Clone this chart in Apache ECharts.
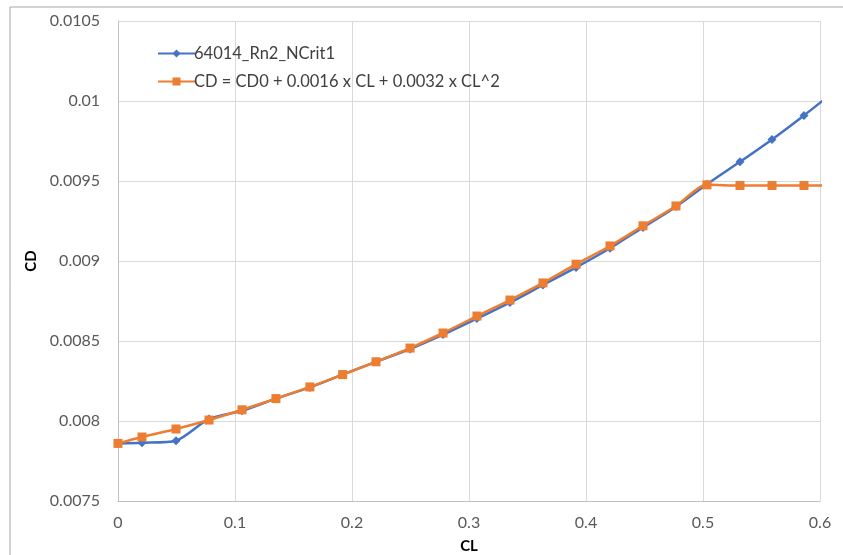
<!DOCTYPE html>
<html><head><meta charset="utf-8">
<script src="https://cdn.jsdelivr.net/npm/echarts@6/dist/echarts.min.js"></script>
<style>html,body{margin:0;padding:0;background:#fff}#c{width:843px;height:555px}</style>
</head><body><div id="c"></div>
<script>
const seriesNames = ['64014_Rn2_NCrit1', 'CD = CD0 + 0.0016 x CL + 0.0032 x CL^2'];
const clValues = [0, 0.0205, 0.0496, 0.0778, 0.106, 0.135, 0.164, 0.192, 0.2205, 0.2496, 0.2778, 0.3068, 0.335, 0.3632, 0.3915, 0.4205, 0.4487, 0.4769, 0.5034, 0.5316, 0.559, 0.5863, 0.614];
const cdMeasured = [0.00786, 0.007864, 0.007877, 0.008013, 0.008064, 0.00814, 0.00821, 0.00829, 0.00837, 0.00845, 0.00854, 0.00864, 0.00874, 0.00885, 0.00896, 0.00908, 0.00921, 0.00934, 0.00948, 0.00962, 0.00976, 0.00991, 0.01007];
const cdModel = [0.00786, 0.0079, 0.00795, 0.008006, 0.00807, 0.00814, 0.008213, 0.00829, 0.00837, 0.008456, 0.00855, 0.008656, 0.008756, 0.008863, 0.00898, 0.009094, 0.00922, 0.009344, 0.009476, 0.009472, 0.009472, 0.009472, 0.009472];
const yTicks = ['0.0075', '0.008', '0.0085', '0.009', '0.0095', '0.01', '0.0105'];
const xTicks = ['0', '0.1', '0.2', '0.3', '0.4', '0.5', '0.6'];

const font = 'Lato, "Liberation Sans", sans-serif';
const chart = echarts.init(document.getElementById('c'), null, {renderer: 'canvas'});
chart.setOption({
  animation: false,
  backgroundColor: '#fff',
  graphic: [{type: 'rect', shape: {x: 10, y: 7, width: 900, height: 700}, style: {fill: 'none', stroke: '#a6a6a6', lineWidth: 1}, silent: true, z: -1}],
  grid: {left: 118, right: 23, top: 21, bottom: 54, containLabel: false, outerBoundsMode: 'none'},
  legend: {
    orient: 'vertical', left: 152, top: 40, itemGap: 11, itemWidth: 37, itemHeight: 10,
    textStyle: {fontFamily: font, fontSize: 16.5, color: '#404040', padding: [0, 0, 0, -6]},
    data: seriesNames
  },
  xAxis: {
    type: 'value', min: 0, max: 0.6, interval: 0.1,
    name: 'CL', nameLocation: 'middle', nameGap: 38,
    nameTextStyle: {fontFamily: font, fontSize: 15, fontWeight: 'bold', color: '#000'},
    axisLine: {show: true, lineStyle: {color: '#bfbfbf', width: 1}},
    axisTick: {show: false},
    axisLabel: {fontFamily: font, fontSize: 16, color: '#595959', margin: 14, formatter: (v) => xTicks[Math.round(v * 10)]},
    splitLine: {show: true, lineStyle: {color: '#d9d9d9', width: 1}}
  },
  yAxis: {
    type: 'value', min: 0.0075, max: 0.0105, interval: 0.0005,
    name: 'CD', nameLocation: 'middle', nameGap: 79, nameRotate: 90,
    nameTextStyle: {fontFamily: font, fontSize: 15, fontWeight: 'bold', color: '#000'},
    axisLine: {show: true, lineStyle: {color: '#bfbfbf', width: 1}},
    axisTick: {show: false},
    axisLabel: {fontFamily: font, fontSize: 16, color: '#595959', margin: 18, formatter: (v) => yTicks[Math.round((v - 0.0075) / 0.0005)]},
    splitLine: {show: true, lineStyle: {color: '#d9d9d9', width: 1}}
  },
  series: [
    {
      name: seriesNames[0], type: 'line', smooth: 0.25, clip: true,
      data: clValues.map((x, i) => [x, cdMeasured[i]]),
      symbol: 'diamond', symbolSize: 9,
      itemStyle: {color: '#4472c4'},
      lineStyle: {color: '#4472c4', width: 2.5}, z: 2
    },
    {
      name: seriesNames[1], type: 'line', smooth: 0.25, clip: true,
      data: clValues.map((x, i) => [x, cdModel[i]]),
      symbol: 'rect', symbolSize: 9,
      itemStyle: {color: '#ed7d31'},
      lineStyle: {color: '#ed7d31', width: 2.5}, z: 3
    }
  ]
});
</script>
</body></html>
